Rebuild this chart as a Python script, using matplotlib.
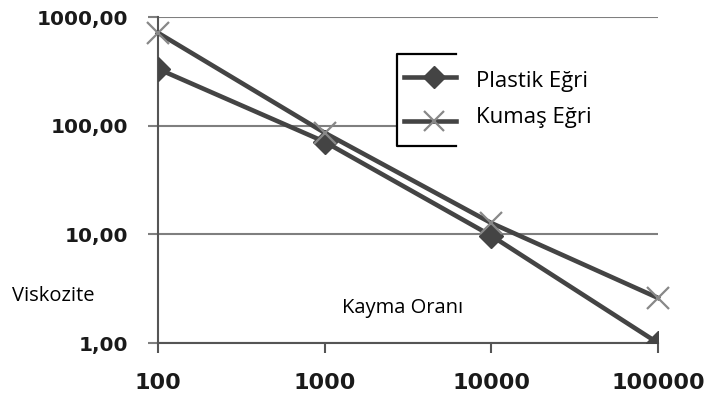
import matplotlib.pyplot as plt
from matplotlib.lines import Line2D
from matplotlib.patches import Rectangle
from matplotlib.ticker import FuncFormatter, FixedLocator

# shear rate vs viscosity for the two curves
shear_rate = [100, 1000, 10000, 100000]
plastik = [333, 71, 9.7, 1.0]
kumas = [715, 86, 12.7, 2.6]

x_ticks = [100, 1000, 10000, 100000]
y_ticks = [1, 10, 100, 1000]

line_c = '#444444'
grid_c = '#7f7f7f'
font = ['Open Sans', 'DejaVu Sans']

fig = plt.figure(figsize=(7.08, 4.01), dpi=100)
ax = fig.add_axes([158 / 708, 1 - 343 / 401, 500 / 708, 326 / 401])

ax.plot(shear_rate, plastik, color=line_c, lw=3.3, marker='D', ms=12,
        mfc=line_c, mec=line_c, zorder=3, label='Plastik Eğri')
ax.plot(shear_rate, kumas, color=line_c, lw=3.3, marker='x', ms=16,
        mec='#888888', mew=1.6, zorder=3, clip_on=False, label='Kumaş Eğri')

ax.set_xscale('log')
ax.set_yscale('log')
ax.set_xlim(100, 100000)
ax.set_ylim(1, 1000)
ax.xaxis.set_major_locator(FixedLocator(x_ticks))
ax.yaxis.set_major_locator(FixedLocator(y_ticks))
ax.xaxis.set_minor_locator(FixedLocator([]))
ax.yaxis.set_minor_locator(FixedLocator([]))
ax.xaxis.set_major_formatter(FuncFormatter(lambda v, p: f'{int(v)}'))
ax.yaxis.set_major_formatter(FuncFormatter(lambda v, p: f'{v:.2f}'.replace('.', ',')))

for s in ['top', 'right']:
    ax.spines[s].set_visible(False)
for s in ['left', 'bottom']:
    ax.spines[s].set_color('#555555')
    ax.spines[s].set_linewidth(1.5)

ax.yaxis.grid(True, color=grid_c, lw=1.5)
ax.set_axisbelow(True)
ax.tick_params(axis='both', length=7.5, width=1.5, color='#555555', direction='out',
               pad=14, labelsize=16, labelcolor='#1a1a1a')
ax.tick_params(axis='y', colors=grid_c, labelcolor='#1a1a1a', labelsize=14.5)
for lab in ax.get_xticklabels() + ax.get_yticklabels():
    lab.set_family('DejaVu Sans')
    lab.set_fontweight('bold')

# legend panel with open right side
px = lambda x, y: (x / 708, 1 - y / 401)
fig.patches.append(Rectangle(px(397, 146), 265 / 708, 92 / 401, transform=fig.transFigure,
                             facecolor='white', edgecolor='none', zorder=5))
frame = [(456, 54), (397, 54), (397, 146), (456, 146)]
fig.lines.append(Line2D([px(*p)[0] for p in frame], [px(*p)[1] for p in frame],
                        transform=fig.transFigure, color='black', lw=1.6, zorder=6))
for y, mk, ms, mc, mew in [(77, 'D', 11, line_c, 1), (121, 'x', 14, '#888888', 1.6)]:
    fig.lines.append(Line2D([px(404, y)[0], px(456, y)[0]], [px(404, y)[1]] * 2,
                            transform=fig.transFigure, color=line_c, lw=3.3, zorder=6))
    fig.lines.append(Line2D([px(434, y)[0]], [px(434, y)[1]], transform=fig.transFigure,
                            marker=mk, ms=ms, mfc=mc, mec=mc, mew=mew, ls='none', zorder=7))
fig.text(*px(476, 82), 'Plastik Eğri', fontsize=16, family=font, va='center', zorder=7)
fig.text(*px(476, 118), 'Kumaş Eğri', fontsize=16, family=font, va='center', zorder=7)

fig.text(*px(12, 296), 'Viskozite', fontsize=14.5, family=font, va='center')
fig.text(*px(342, 308), 'Kayma Oranı', fontsize=14.5, family=font, va='center')

fig.savefig('out.png', dpi=100)
